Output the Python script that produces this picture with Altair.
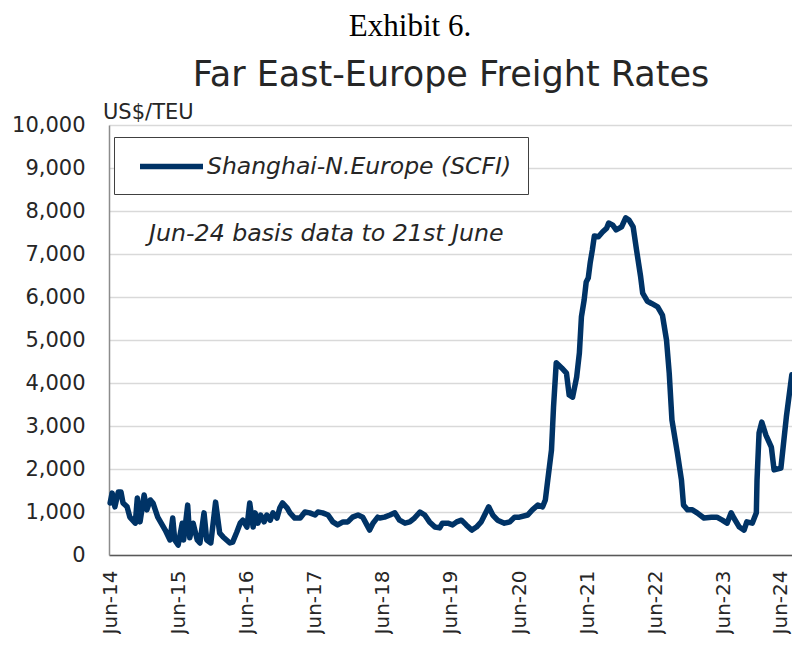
import altair as alt
import pandas as pd
import numpy as np

# ---- data (decimal year, US$/TEU) ----
years = [
    2014.46, 2014.49, 2014.53, 2014.58, 2014.62, 2014.65, 2014.71, 2014.75, 2014.83, 2014.86,
    2014.90, 2014.96, 2015.00, 2015.05, 2015.09, 2015.16, 2015.27, 2015.34, 2015.38, 2015.41,
    2015.46, 2015.52, 2015.54, 2015.60, 2015.63, 2015.68, 2015.74, 2015.78, 2015.84, 2015.88,
    2015.94, 2016.01, 2016.07, 2016.12, 2016.22, 2016.26, 2016.32, 2016.37, 2016.41, 2016.47,
    2016.51, 2016.56, 2016.59, 2016.63, 2016.67, 2016.72, 2016.76, 2016.81, 2016.85, 2016.91,
    2016.95, 2016.99, 2017.06, 2017.10, 2017.17, 2017.25, 2017.32, 2017.39, 2017.47, 2017.51,
    2017.58, 2017.66, 2017.73, 2017.80, 2017.88, 2017.95, 2018.02, 2018.10, 2018.17, 2018.23,
    2018.27, 2018.32, 2018.35, 2018.39, 2018.42, 2018.49, 2018.57, 2018.64, 2018.71, 2018.79,
    2018.86, 2018.93, 2019.01, 2019.08, 2019.15, 2019.23, 2019.30, 2019.34, 2019.42, 2019.49,
    2019.55, 2019.62, 2019.69, 2019.77, 2019.84, 2019.91, 2019.96, 2020.02, 2020.08, 2020.15,
    2020.25, 2020.33, 2020.40, 2020.47, 2020.59, 2020.66, 2020.74, 2020.81, 2020.85, 2020.88,
    2020.94, 2020.97, 2021.01, 2021.09, 2021.16, 2021.20, 2021.25, 2021.31, 2021.35, 2021.38,
    2021.42, 2021.45, 2021.48, 2021.51, 2021.54, 2021.57, 2021.63, 2021.69, 2021.75, 2021.78,
    2021.84, 2021.89, 2021.97, 2022.03, 2022.08, 2022.14, 2022.19, 2022.25, 2022.28, 2022.35,
    2022.41, 2022.50, 2022.57, 2022.63, 2022.67, 2022.71, 2022.79, 2022.85, 2022.88, 2022.94,
    2023.01, 2023.08, 2023.18, 2023.29, 2023.37, 2023.45, 2023.52, 2023.58, 2023.62, 2023.70,
    2023.77, 2023.81, 2023.89, 2023.95, 2023.96, 2023.99, 2024.03, 2024.09, 2024.17, 2024.21,
    2024.31, 2024.39, 2024.47,
]
rates = [
    1210, 1440, 1120, 1465, 1465, 1210, 1120, 880, 740, 1325,
    770, 1395, 1050, 1280, 1210, 880, 580, 350, 860, 350,
    230, 740, 350, 1160, 400, 740, 350, 280, 980, 350,
    280, 1230, 510, 420, 280, 300, 530, 740, 810, 650,
    1210, 650, 980, 740, 930, 770, 930, 810, 980, 860,
    1090, 1210, 1090, 980, 860, 860, 1000, 980, 930, 1000,
    980, 930, 770, 700, 770, 770, 880, 930, 880, 700,
    580, 740, 800, 880, 860, 880, 930, 980, 810, 740,
    770, 860, 1000, 930, 770, 650, 630, 740, 740, 700,
    770, 810, 700, 580, 650, 770, 930, 1120, 930, 810,
    740, 770, 880, 880, 930, 1050, 1160, 1120, 1280, 1670,
    2440, 3440, 4470, 4350, 4230, 3720, 3670, 4140, 4700, 5540,
    5930, 6350, 6440, 6810, 7090, 7420, 7400, 7510, 7600, 7720,
    7670, 7560, 7630, 7840, 7790, 7630, 7090, 6470, 6090, 5900,
    5850, 5770, 5580, 5000, 4230, 3140, 2370, 1740, 1160, 1050,
    1050, 980, 860, 880, 880, 810, 740, 980, 860, 650,
    580, 770, 740, 980, 1740, 2840, 3090, 2790, 2510, 1980,
    2020, 3210, 4190,
]
series_name = "Shanghai-N.Europe (SCFI)"
tick_years = list(range(2014, 2025))
y_ticks = list(range(0, 10001, 1000))


def to_date(y):
    yr = int(np.floor(y))
    start = pd.Timestamp(year=yr, month=1, day=1)
    end = pd.Timestamp(year=yr + 1, month=1, day=1)
    return (start + (end - start) * (y - yr)).strftime("%Y-%m-%dT%H:%M:%S")


df = pd.DataFrame({
    "date": [to_date(y) for y in years],
    "rate": rates,
    "series": series_name,
})

NAVY = "#003366"
FONT = "DejaVu Sans"
TXT = "#262626"

line = alt.Chart(df).mark_line(
    strokeWidth=5.5, strokeJoin="round", strokeCap="round"
).encode(
    x=alt.X(
        "date:T",
        scale=alt.Scale(domain=[alt.DateTime(year=2014, month=6, date=12),
                                alt.DateTime(year=2024, month=6, date=22)]),
        axis=alt.Axis(
            values=[alt.DateTime(year=y, month=6, date=20) for y in tick_years],
            format="%b-%y", labelAngle=-90, ticks=False, grid=False,
            labelPadding=15, labelFlush=False, labelOverlap=False,
            labelOffset={"condition": {"test": "year(datum.value) >= 2024", "value": -11},
                         "value": 0},
            domainColor="#595959", domainWidth=1.5,
            labelFont=FONT, labelFontSize=20, labelColor=TXT, title=None,
        ),
    ),
    y=alt.Y(
        "rate:Q",
        scale=alt.Scale(domain=[0, 10000]),
        axis=alt.Axis(
            values=y_ticks, format=",.0f", ticks=False, labelPadding=24,
            gridColor="#d9d9d9", gridWidth=1.5,
            domainColor="#8c8c8c", domainWidth=1.5,
            labelFont=FONT, labelFontSize=21, labelColor=TXT, title=None,
        ),
    ),
    color=alt.Color(
        "series:N",
        scale=alt.Scale(range=[NAVY]),
        legend=alt.Legend(
            title=None, orient="none", legendX=5, legendY=12,
            symbolType="M-3,0H3", symbolSize=441, symbolStrokeWidth=5.5,
            symbolOffset=28, labelOffset=22, padding=16,
            strokeColor="#404040", fillColor="white",
            labelFont=FONT, labelFontStyle="italic", labelFontSize=23.5,
            labelColor=TXT, labelLimit=600,
        ),
    ),
)


def label(text, x, y, **kw):
    return alt.Chart(pd.DataFrame({"t": [text]})).mark_text(**kw).encode(
        x=alt.value(x), y=alt.value(y), text="t:N"
    )


exhibit = label("Exhibit 6.", 301, -98, font="Liberation Serif", fontSize=31,
                align="center", baseline="middle", color="black")
title = label("Far East-Europe Freight Rates", 342, -50, font=FONT, fontSize=35,
              align="center", baseline="middle", color=TXT)
unit = label("US$/TEU", -6, -12, font=FONT, fontSize=21, align="left",
             baseline="middle", color=TXT)
note = label("Jun-24 basis data to 21st June", 40, 109, font=FONT, fontSize=23.7,
             fontStyle="italic", align="left", baseline="middle", color=TXT)

chart = alt.layer(line, exhibit, title, unit, note).properties(
    width=683, height=430,
    autosize=alt.AutoSizeParams(type="none"),
    padding={"left": 101, "top": 117, "right": 0, "bottom": 79},
).configure_view(stroke=None)

chart.save("out.html", embed_options={"renderer": "svg", "actions": False})
